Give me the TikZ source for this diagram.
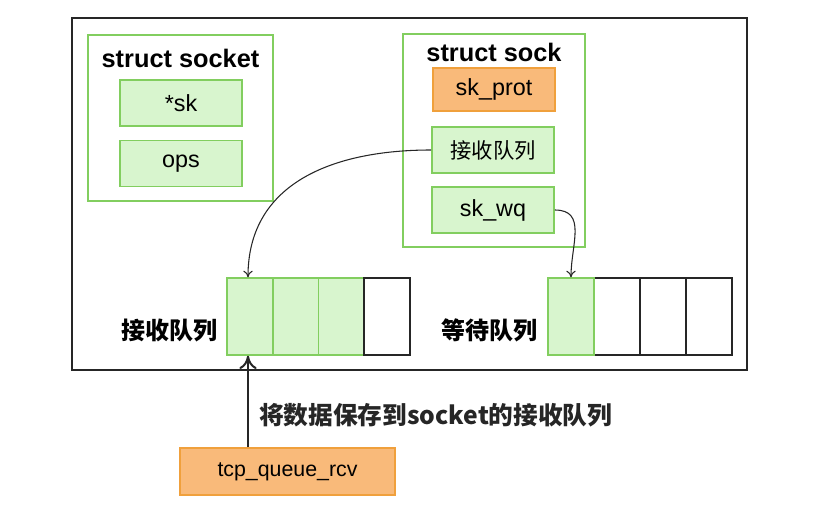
\documentclass[tikz,border=0pt]{standalone}
\usepackage{fontspec}
\setmainfont{Liberation Sans}
\newfontfamily\cjk{Noto Sans CJK SC}
\usetikzlibrary{arrows.meta}
\definecolor{gfill}{RGB}{216,245,206}
\definecolor{gline}{RGB}{130,206,95}
\definecolor{ofill}{RGB}{249,186,122}
\definecolor{oline}{RGB}{240,160,60}
\tikzset{
  field/.style={draw=gline, fill=gfill, line width=1.2pt, minimum width=91.5pt, minimum height=34.5pt, inner sep=0pt, font=\fontsize{17.5}{20}\selectfont},
  ofield/.style={field, draw=oline, fill=ofill},
  frame/.style={draw=gline, line width=1pt, inner sep=0pt},
  title/.style={font=\fontsize{19}{21}\selectfont\bfseries},
  gcell/.style={draw=gline, fill=gfill, line width=1pt, minimum width=34.5pt, minimum height=57.75pt, inner sep=0pt},
  wcell/.style={draw=black!85, fill=white, line width=1pt, minimum width=34.5pt, minimum height=57.75pt, inner sep=0pt},
  qlabel/.style={font=\cjk\bfseries\fontsize{18}{20}\selectfont, anchor=east},
  conn/.style={-{To[length=5pt,width=7pt]}, line width=0.8pt, black!85},
}
\begin{document}
\begin{tikzpicture}[x=0.75pt,y=-0.75pt]
\useasboundingbox (0,0) rectangle (819,509);
% outer frame
\node[draw=black!85, line width=1pt, minimum width=506.25pt, minimum height=264pt, inner sep=0pt] (outer) at (409.5,194) {};
% struct socket
\node[frame, minimum width=138.75pt, minimum height=124.5pt] (socket) at (180.5,118) {};
\node[title] (sockettitle) at (180.5,58) {struct socket};
\node[field] (sk) at (181,103) {*sk};
\node[field] (ops) at (181,163.5) {ops};
% struct sock
\node[frame, minimum width=136.5pt, minimum height=159.75pt] (sock) at (494,140.5) {};
\node[title] (socktitle) at (494,52) {struct sock};
\node[ofield, minimum height=32.25pt] (skprot) at (494,89.5) {sk\_prot};
\node[field, font=\cjk\fontsize{16}{18}\selectfont] (recv) at (493,150) {接收队列};
\node[field] (skwq) at (493,210) {sk\_wq};
% receive queue
\node[gcell] (rq1) at (250,316.5) {};
\node[gcell] (rq2) at (296,316.5) {};
\node[gcell] (rq3) at (341.5,316.5) {};
\node[wcell] (rq4) at (387,316.5) {};
\node[qlabel] (rqlabel) at (222,330) {接收队列};
% wait queue
\node[wcell] (wq2) at (617,316.5) {};
\node[wcell] (wq3) at (663,316.5) {};
\node[wcell] (wq4) at (709,316.5) {};
\node[gcell] (wq1) at (571,316.5) {};
\node[qlabel] (wqlabel) at (542,330) {等待队列};
% tcp_queue_rcv
\node[ofield, minimum width=161.25pt, minimum height=35.25pt, font=\fontsize{16}{18}\selectfont] (tcp) at (287.5,471.5) {tcp\_queue\_rcv};
% connectors
\draw[conn] (recv.west) to[out=180, in=90, looseness=1.1] ([xshift=-1.5pt]rq1.north);
\draw[conn] (skwq.east) to[out=0, in=90, looseness=1.2] (wq1.north);
\draw[-{To[length=10pt,width=13pt,line width=1.5pt]}, line width=2.2pt, black!85] ([xshift=-1.5pt]rq1.south |- tcp.north) -- node[right=4pt, pos=0.35, font=\cjk\bfseries\fontsize{18.5}{20}\selectfont] (savelabel) {将数据保存到socket的接收队列} ([xshift=-1.5pt]rq1.south);
\end{tikzpicture}
\end{document}
